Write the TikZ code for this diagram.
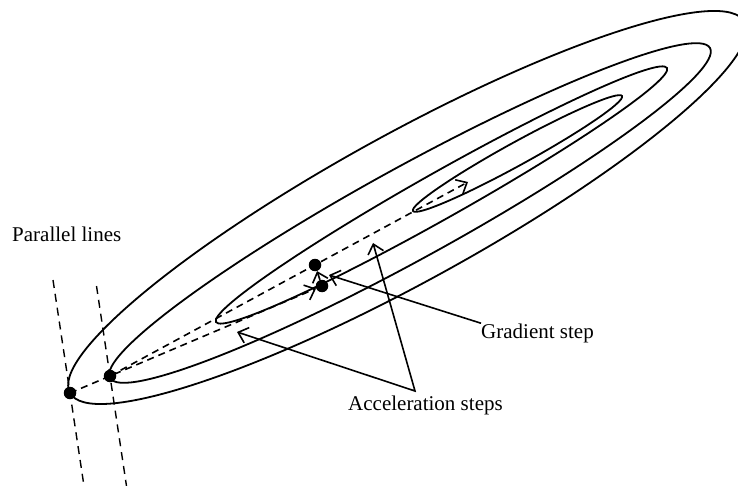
\documentclass[tikz,border=0pt]{standalone}
\usepackage{fontspec}
\setmainfont{Liberation Serif}
\usetikzlibrary{arrows.meta}
\begin{document}
\begin{tikzpicture}[x=1pt,y=-1pt,
  contour/.style={line width=1.8pt},
  dashln/.style={line width=1.6pt, dash pattern=on 7pt off 5pt},
  parln/.style={line width=1.4pt, dash pattern=on 8pt off 6pt},
  tipV/.style={-{Straight Barb[length=9pt,width=16pt]}},
  bothV/.style={{Straight Barb[length=9pt,width=16pt]}-{Straight Barb[length=9pt,width=16pt]}},
  dot/.style={circle, fill=black, inner sep=0pt, minimum size=12.5pt},
  lbl/.style={inner sep=0pt, font=\fontsize{21}{25}\selectfont},
  ptr/.style={line width=1.6pt}
]
\useasboundingbox (0,0) rectangle (738,486);
\clip (0,0) rectangle (738,486);

% contour centres
\coordinate (c1) at (407.4,207.5);
\coordinate (c2) at (410,213);
\coordinate (c3) at (441.5,195);
\coordinate (c4) at (517.5,153.5);

\draw[contour, rotate around={28.8:(c1)}] (c1) ellipse [x radius=385pt, y radius=74pt];
\draw[contour, rotate around={28.8:(c2)}] (c2) ellipse [x radius=342.4pt, y radius=46pt];
\draw[contour, rotate around={29.4:(c3)}] (c3) ellipse [x radius=258.8pt, y radius=23pt];
\draw[contour, rotate around={28.8:(c4)}] (c4) ellipse [x radius=119.3pt, y radius=11.5pt];

% iterates
\node[dot] (d1) at (70,393) {};
\node[dot] (d2) at (110,376) {};
\node[dot] (d3) at (315,265) {};
\node[dot] (d4) at (322,286) {};
\coordinate (a2) at (468,182);

% parallel lines
\coordinate (p1a) at (53,280);
\coordinate (p1b) at (84,486);
\coordinate (p2a) at (96.5,286);
\coordinate (p2b) at (126.5,486);
\draw[parln] (p1a) -- (p1b);
\draw[parln] (p2a) -- (p2b);

% steps
\draw[dashln, tipV] (d1.center) -- (d4);
\draw[dashln, tipV] (d2.center) -- (a2);
\draw[ptr, tipV] (d4) -- (d3);

% labels
\node[lbl, anchor=base west] (pl) at (12,241.5) {Parallel lines};
\node[lbl, anchor=base west] (gs) at (481,338) {Gradient step};
\node[lbl, anchor=base west] (as) at (348,410) {Acceleration steps};

\coordinate (gt) at (329,275);
\coordinate (m) at (415,391);
\coordinate (t1) at (237,332);
\coordinate (t2) at (373,243);

\draw[ptr, tipV] (gs.north west) -- (gt);
\draw[ptr, bothV] (t1) -- (m) -- (t2);
\end{tikzpicture}
\end{document}
